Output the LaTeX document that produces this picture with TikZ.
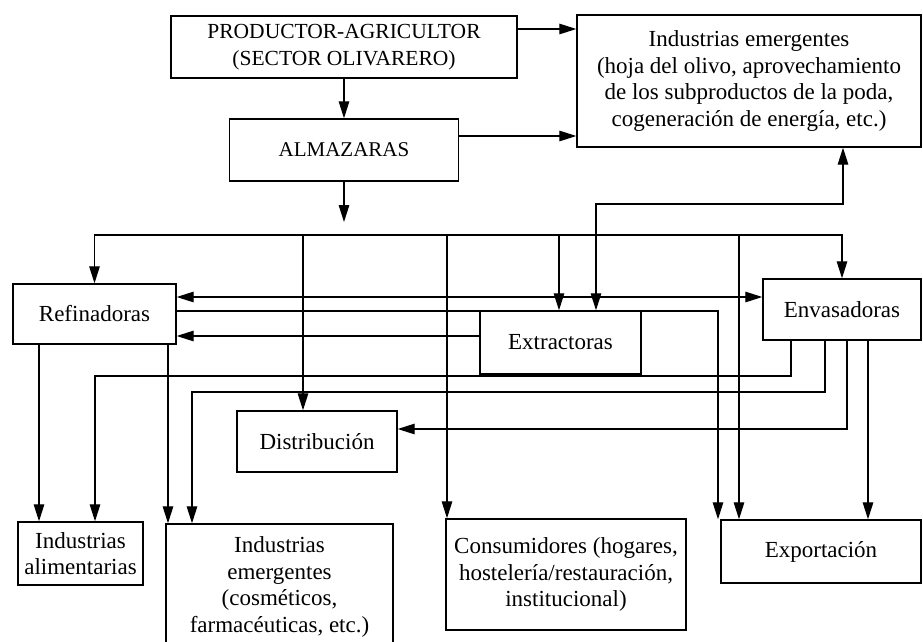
\documentclass[tikz,border=0pt]{standalone}
\usepackage{fontspec}
\setmainfont{Liberation Serif}
\usetikzlibrary{arrows.meta}
\begin{document}
\begin{tikzpicture}[x=1pt,y=-1pt,
  box/.style={draw,line width=1.4pt,align=center,inner sep=0pt,font=\fontsize{23}{26.5}\selectfont},
  capbox/.style={box,font=\fontsize{21.5}{27}\selectfont},
  ln/.style={line width=1.3pt},
  arr/.style={ln,-{Triangle[length=17pt,width=10.5pt]}},
  darr/.style={ln,{Triangle[length=17pt,width=10.5pt]}-{Triangle[length=17pt,width=10.5pt]}},
]
\useasboundingbox (0,0) rectangle (923,642);
\clip (0,0) rectangle (923,642);

% boxes
\node[capbox,minimum width=346pt,minimum height=62pt] (prod) at (344,47) {PRODUCTOR-AGRICULTOR\\(SECTOR OLIVARERO)};
\node[box,minimum width=344pt,minimum height=132pt] (indem) at (749,81) {Industrias emergentes\\(hoja del olivo, aprovechamiento\\de los subproductos de la poda,\\cogeneración de energía, etc.)};
\node[capbox,font=\fontsize{21}{27}\selectfont,minimum width=229pt,minimum height=62pt] (alm) at (344,150) {ALMAZARAS};
\node[box,minimum width=163pt,minimum height=60pt] (ref) at (94.5,314) {Refinadoras};
\node[box,minimum width=161pt,minimum height=63pt] (ext) at (560.5,342.5) {Extractoras};
\node[box,minimum width=158pt,minimum height=61pt] (env) at (842,309.5) {Envasadoras};
\node[box,minimum width=160pt,minimum height=61pt] (dist) at (317,441.5) {Distribución};
\node[box,minimum width=125pt,minimum height=63pt] (alim) at (80.5,553.5) {Industrias\\alimentarias};
\node[box,minimum width=227pt,minimum height=126pt] (cosm) at (279.5,587) {Industrias\\emergentes\\(cosméticos,\\farmacéuticas, etc.)};
\node[box,minimum width=240pt,minimum height=111pt] (cons) at (566,574.5) {Consumidores (hogares,\\hostelería/restauración,\\institucional)};
\node[box,minimum width=200pt,minimum height=63pt] (exp) at (821,551.5) {Exportación};

\coordinate (almout) at (344,222);
\coordinate (bus) at (0,235);

% top connectors
\draw[arr] (prod.east |- 0,29) -- (indem.west |- 0,29);
\draw[arr] (prod) -- (alm);
\draw[arr] (alm.east |- 0,136) -- (indem.west |- 0,136);
\draw[arr] (alm) -- (almout);

% distribution bus
\draw[darr] (ref.north) -- (ref.north |- bus) -- (env.north |- bus) -- (env.north);
\draw[arr] (303,235) -- (dist.north -| 303,0);
\draw[arr] (447,235) -- (cons.north -| 447,0);
\draw[arr] (559,235) -- (ext.north -| 559,0);
\draw[arr] (739,235) -- (exp.north -| 739,0);

% extractoras <-> industrias emergentes
\draw[darr] (ext.north -| 596,0) -- (596,204) -- (843,204) -- (indem.south -| 843,0);

% refinadoras
\draw[darr] (ref.east |- 0,297) -- (env.west |- 0,297);
\draw[arr] (ref.east |- 0,311) -- (718,311) -- (exp.north -| 718,0);
\draw[arr] (ext.west |- 0,336) -- (ref.east |- 0,336);
\draw[arr] (ref.south -| 39,0) -- (alim.north -| 39,0);
\draw[arr] (ref.south -| 168,0) -- (cosm.north -| 168,0);

% envasadoras
\draw[arr] (env.south -| 791,0) -- (791,376) -- (95,376) -- (alim.north -| 95,0);
\draw[arr] (env.south -| 825,0) -- (825,392) -- (192,392) -- (cosm.north -| 192,0);
\draw[arr] (env.south -| 847,0) -- (847,429) -- (dist.east |- 0,429);
\draw[arr] (env.south -| 868,0) -- (exp.north -| 868,0);
\end{tikzpicture}
\end{document}
